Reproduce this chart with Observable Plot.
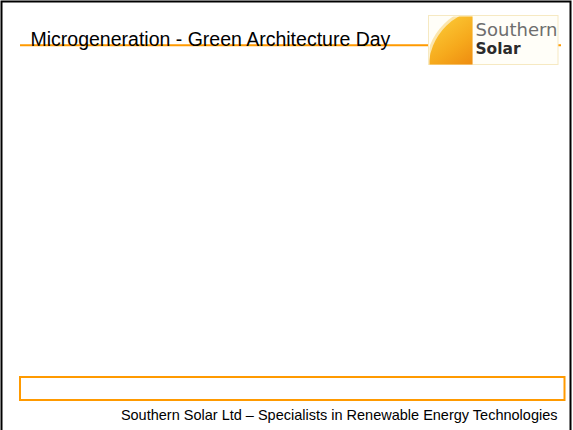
<!DOCTYPE html>
<html>
<head>
<meta charset="utf-8">
<script src="https://cdn.jsdelivr.net/npm/d3@7"></script>
<script src="https://cdn.jsdelivr.net/npm/@observablehq/plot@0.6"></script>
<style>
  html, body { margin: 0; padding: 0; background: #ffffff; }
  #chart svg { display: block; }
</style>
</head>
<body>
<div id="chart"></div>
<script>
// Slide content (this reference slide carries no numeric series)
const titleText = ["Microgeneration - Green Architecture Day"];
const footerText = ["Southern Solar Ltd \u2013 Specialists in Renewable Energy Technologies"];
const logoTop = ["Southern"];
const logoBottom = ["Solar"];

const W = 573, H = 430;
const orange = "#ff9a00";

const svg = Plot.plot({
  width: W,
  height: H,
  margin: 0,
  x: {domain: [0, W], range: [0, W], axis: null},
  y: {domain: [0, H], range: [0, H], axis: null},
  style: {background: "#ffffff", fontFamily: "Liberation Sans, Arial, sans-serif"},
  marks: [
    // slide border
    Plot.rect([0], {x1: 1.5, x2: 570.5, y1: 1.5, y2: 445, fill: "none", stroke: "#000000", strokeWidth: 2}),
    // header rule
    Plot.ruleY([44.8], {x1: 20, x2: 561, stroke: orange, strokeWidth: 2}),
    // logo box
    Plot.rect([0], {x1: 428.5, x2: 558, y1: 15.5, y2: 64.5, fill: "#fffef8", stroke: "#f6e9c2", strokeWidth: 1}),
    // sun glow and sun
    Plot.dot([0], {x: 488, y: 68, r: 63, fill: "#fbe6ae", stroke: "none"}),
    Plot.dot([0], {x: 488, y: 68, r: 60, fill: "url(#sunGrad)", stroke: "none"}),
    // logo words
    Plot.text(logoTop, {x: 475, y: 35, text: d => d, textAnchor: "start", lineAnchor: "bottom",
      fontSize: 18, fontFamily: "DejaVu Sans", fill: "#6e6e6e"}),
    Plot.text(logoBottom, {x: 475, y: 53.5, text: d => d, textAnchor: "start", lineAnchor: "bottom",
      fontSize: 16, fontWeight: "bold", fontFamily: "DejaVu Sans", fill: "#2b2b2b"}),
    // title
    Plot.text(titleText, {x: 30, y: 45, text: d => d, textAnchor: "start", lineAnchor: "bottom",
      fontSize: 19.5, fontFamily: "Liberation Sans", fill: "#000000"}),
    // bottom box
    Plot.rect([0], {x1: 20, x2: 564.5, y1: 377, y2: 400, fill: "none", stroke: orange, strokeWidth: 2}),
    // footer
    Plot.text(footerText, {x: 557, y: 419.5, text: d => d, textAnchor: "end", lineAnchor: "bottom",
      fontSize: 14.5, fontFamily: "Liberation Sans", fill: "#000000"})
  ]
});

// gradient + clip for the sun
const root = d3.select(svg);
const defs = root.insert("defs", ":first-child");
const grad = defs.append("linearGradient")
  .attr("id", "sunGrad")
  .attr("gradientUnits", "userSpaceOnUse")
  .attr("x1", 440).attr("y1", 20).attr("x2", 472).attr("y2", 64);
grad.append("stop").attr("offset", "0%").attr("stop-color", "#fbc734");
grad.append("stop").attr("offset", "55%").attr("stop-color", "#f6a91c");
grad.append("stop").attr("offset", "100%").attr("stop-color", "#ee8c10");
defs.append("clipPath").attr("id", "sunClip")
  .append("rect").attr("x", 429).attr("y", 16).attr("width", 43).attr("height", 48);
root.selectAll('g[aria-label="dot"]').attr("clip-path", "url(#sunClip)");

// fit logo words to their measured widths
root.selectAll('g[aria-label="text"] text').each(function() {
  const t = this.textContent;
  if (t === "Southern") { this.setAttribute("textLength", 82); this.setAttribute("lengthAdjust", "spacingAndGlyphs"); }
  if (t === "Solar") { this.setAttribute("textLength", 45); this.setAttribute("lengthAdjust", "spacingAndGlyphs"); }
});

document.getElementById("chart").appendChild(svg);
</script>
</body>
</html>
